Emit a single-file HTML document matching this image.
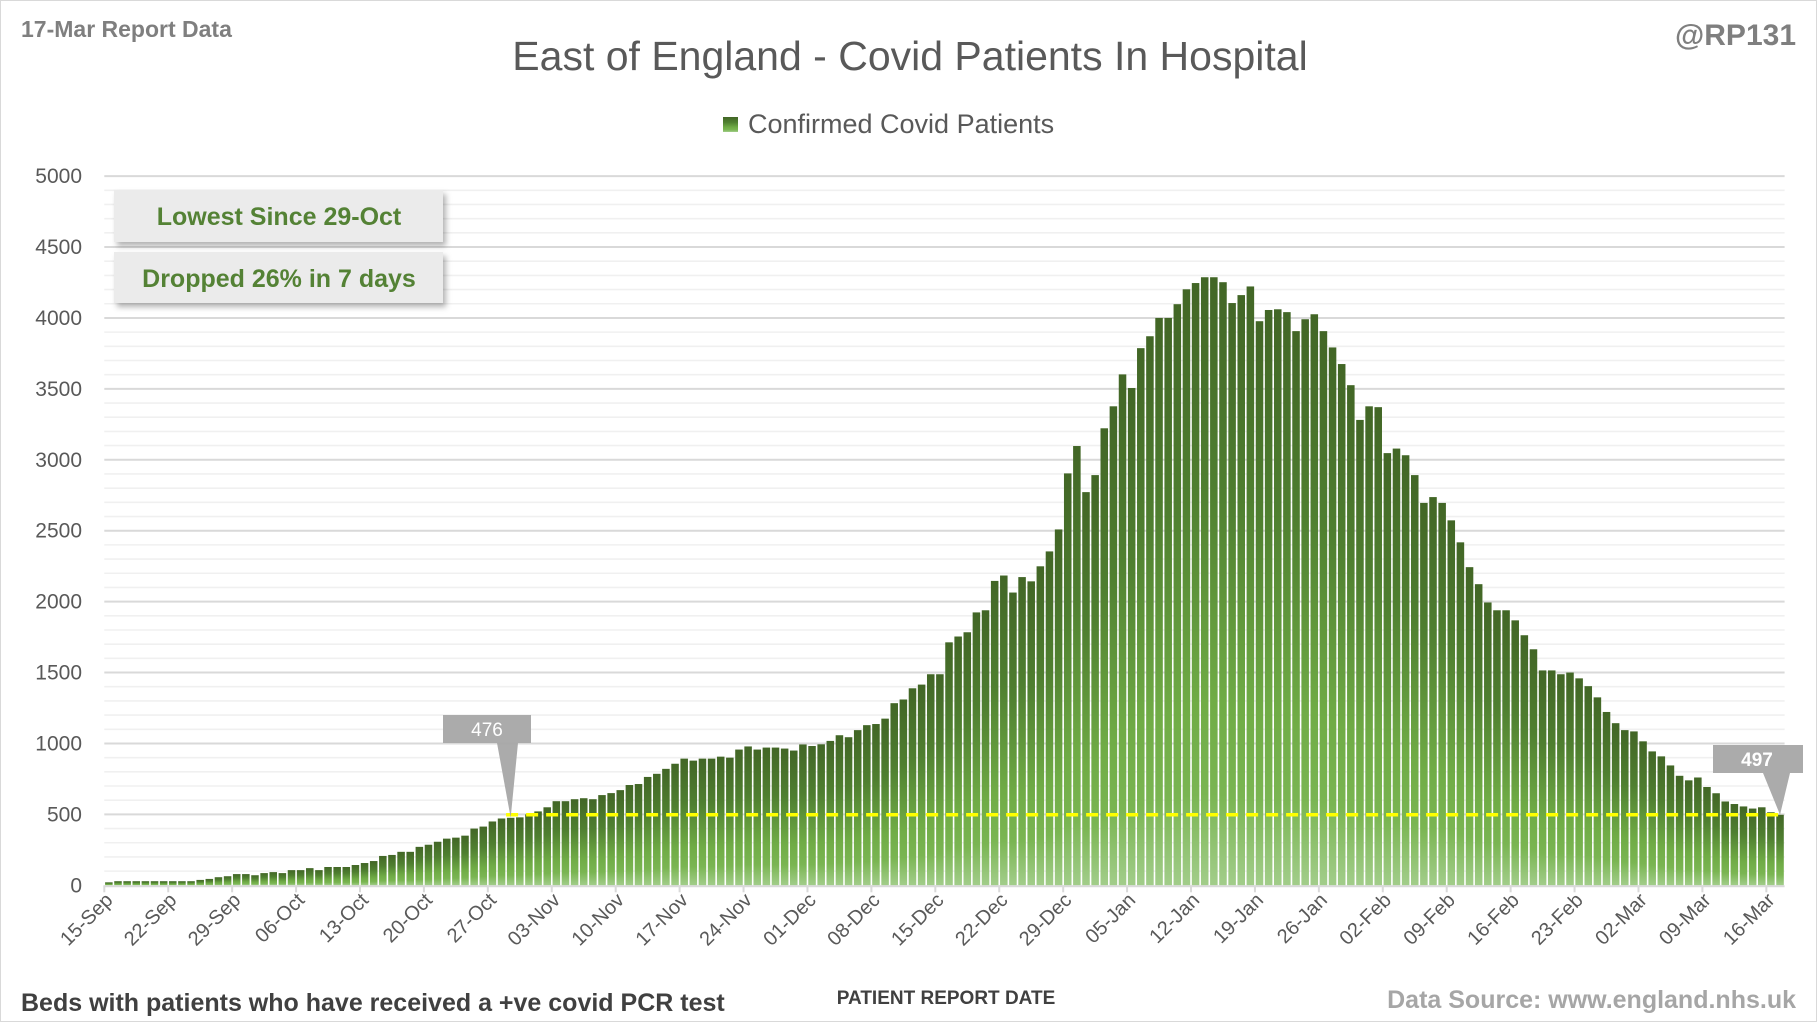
<!DOCTYPE html>
<html><head><meta charset="utf-8"><style>
html,body{margin:0;padding:0;background:#fff;}
body{width:1817px;height:1022px;overflow:hidden;font-family:"Liberation Sans",sans-serif;}
</style></head><body>
<svg id="s" width="1817" height="1022" xmlns="http://www.w3.org/2000/svg" font-family="Liberation Sans, sans-serif">
<defs>
<linearGradient id="g" x1="0" y1="0" x2="0" y2="1">
<stop offset="0" stop-color="#426626"/>
<stop offset="0.35" stop-color="#4f7f30"/>
<stop offset="0.7" stop-color="#70ac46"/>
<stop offset="0.85" stop-color="#7ab552"/>
<stop offset="1" stop-color="#a2cd8a"/>
</linearGradient>
<filter id="sh" x="-10%" y="-20%" width="130%" height="160%"><feDropShadow dx="3" dy="4" stdDeviation="3" flood-color="#000" flood-opacity="0.3"/></filter>
</defs>
<rect x="0.5" y="0.5" width="1816" height="1021" fill="#fff" stroke="#d9d9d9"/>
<g id="grid"></g>
<g id="bars"></g>
<g id="ax"></g>
<text x="21" y="37" font-size="23" font-weight="bold" fill="#7f7f7f">17-Mar Report Data</text>
<text x="1796" y="45" font-size="30" font-weight="bold" fill="#7f7f7f" text-anchor="end">@RP131</text>
<text x="910" y="70" font-size="41" fill="#595959" text-anchor="middle">East of England - Covid Patients In Hospital</text>
<rect x="723" y="117" width="15" height="15" fill="url(#g)"/>
<text x="748" y="133" font-size="27" fill="#595959">Confirmed Covid Patients</text>
<g filter="url(#sh)">
<rect x="114" y="190" width="329" height="52" fill="#ebebeb"/>
<rect x="114" y="252" width="329" height="51" fill="#ebebeb"/>
</g>
<text x="279" y="225" font-size="25" font-weight="bold" fill="#548235" text-anchor="middle">Lowest Since 29-Oct</text>
<text x="279" y="287" font-size="25" font-weight="bold" fill="#548235" text-anchor="middle">Dropped 26% in 7 days</text>
<g id="ann"></g>
<text x="946" y="1004" font-size="19" font-weight="bold" fill="#404040" text-anchor="middle">PATIENT REPORT DATE</text>
<text x="21" y="1011" font-size="25" font-weight="bold" fill="#404040">Beds with patients who have received a +ve covid PCR test</text>
<text x="1796" y="1008" font-size="25" font-weight="bold" fill="#a6a6a6" text-anchor="end">Data Source: www.england.nhs.uk</text>
</svg>
<script>
var d=[21,29,29,29,29,29,29,29,29,29,38,45,57,64,79,79,71,86,93,86,107,107,121,107,129,129,129,143,157,171,207,214,236,236,271,286,307,329,336,350,400,414,450,471,476,479,500,521,550,593,593,607,614,607,636,650,671,707,714,764,786,821,857,893,879,893,893,907,900,957,979,957,971,971,964,950,993,
982,994,1018,1058,1044,1094,1129,1137,1175,1284,1310,1389,1415,1488,1488,1713,1754,1784,1924,1939,2146,2184,2064,2173,2143,2249,2354,2509,2904,3097,2772,2892,3222,3377,3602,3506,3787,3871,4000,4000,4097,4202,4246,4287,4287,4252,4105,4161,4222,3977,4056,4061,4041,3907,
3991,4026,3907,3792,3675,3526,3281,3377,3371,3047,3079,3032,2892,2696,2737,2696,2573,2418,2243,2123,1994,1939,1939,1868,1763,1664,1515,1515,1488,1500,1459,1404,1325,1222,1143,1094,1085,1015,944,909,845,772,740,760,693,649,591,573,556,541,550,515,497];
var NS="http://www.w3.org/2000/svg";
function el(p,t,a,txt){var e=document.createElementNS(NS,t);for(var k in a)e.setAttribute(k,a[k]);if(txt!=null)e.textContent=txt;document.getElementById(p).appendChild(e);return e;}
var L=104.3,R=1784.6,B=885.3,T=176.1,n=d.length,w=(R-L)/n,k=(B-T)/5000;
function Y(v){return B-v*k;}
for(var v=100;v<=5000;v+=100){var maj=v%500==0;el("grid","line",{x1:L,x2:R,y1:Y(v),y2:Y(v),stroke:maj?"#d9d9d9":"#f0f0f0","stroke-width":maj?2:1.6});}
for(var v=0;v<=5000;v+=500)el("ax","text",{x:82,y:Y(v)+7,"font-size":21,fill:"#595959","text-anchor":"end"},String(v));
for(var i=0;i<n;i++){var x=L+i*w+0.8,h=d[i]*k;el("bars","rect",{x:x,y:B-h,width:w-1.6,height:h,fill:"url(#g)"});}
el("ax","line",{x1:L,x2:R,y1:B+1,y2:B+1,stroke:"#d9d9d9","stroke-width":2});
var labs=["15-Sep","22-Sep","29-Sep","06-Oct","13-Oct","20-Oct","27-Oct","03-Nov","10-Nov","17-Nov","24-Nov","01-Dec","08-Dec","15-Dec","22-Dec","29-Dec","05-Jan","12-Jan","19-Jan","26-Jan","02-Feb","09-Feb","16-Feb","23-Feb","02-Mar","09-Mar","16-Mar"];
for(var j=0;j<labs.length;j++){var cx=L+(j*7+0.5)*w;var tx=L+j*7*w;el("ax","line",{x1:tx,x2:tx,y1:B,y2:B+7,stroke:"#d9d9d9","stroke-width":2});
el("ax","text",{x:cx+5,y:B+16,"font-size":20,fill:"#595959","text-anchor":"end",transform:"rotate(-45 "+(cx+5)+" "+(B+16)+")"},labs[j]);}
var yy=Y(497);
el("ann","line",{x1:L+44*w,x2:R,y1:yy,y2:yy,stroke:"#ffff00","stroke-width":3.5,"stroke-dasharray":"12 8"});
// callout 476
var tx1=L+44.5*w;
el("ann","path",{d:"M443 715 H531 V743 H518 L"+tx1+" "+Y(476)+" L497 743 H443 Z",fill:"#a6a6a6",opacity:0.95});
el("ann","text",{x:487,y:736,"font-size":19,fill:"#fff","text-anchor":"middle"},"476");
var tx2=L+183.5*w;
el("ann","path",{d:"M1713 745 H1803 V773 H1790 L"+tx2+" "+Y(497)+" L1763 773 H1713 Z",fill:"#a6a6a6",opacity:0.95});
el("ann","text",{x:1757,y:766,"font-size":19,"font-weight":"bold",fill:"#fff","text-anchor":"middle"},"497");
</script>
</body></html>
